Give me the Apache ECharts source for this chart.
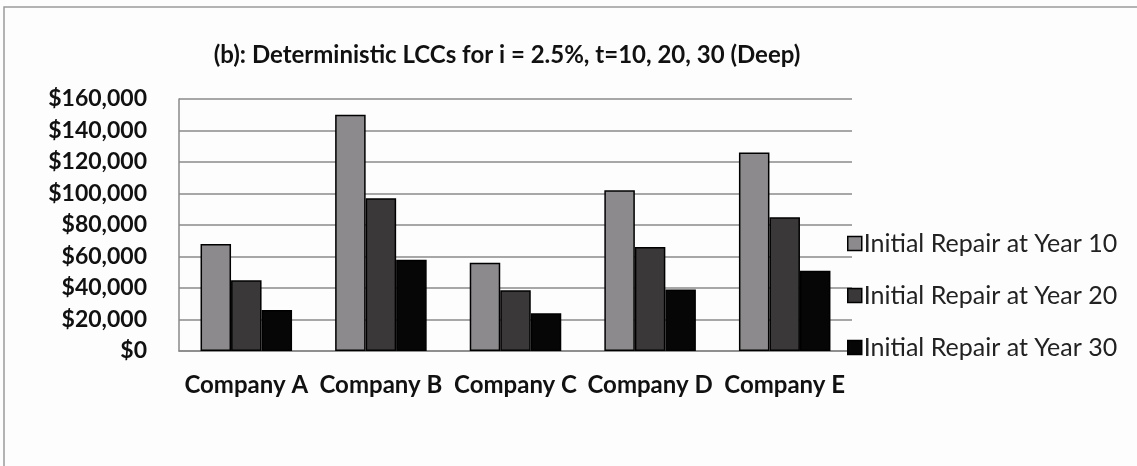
<!DOCTYPE html>
<html>
<head>
<meta charset="utf-8">
<script src="https://cdn.jsdelivr.net/npm/echarts@6/dist/echarts.min.js"></script>
<style>
html,body{margin:0;padding:0;background:#fdfdfe;}
#chart{width:1137px;height:466px;}
</style>
</head>
<body>
<div id="chart"></div>
<script>
var categories = ['Company A', 'Company B', 'Company C', 'Company D', 'Company E'];
var seriesNames = ['Initial Repair at Year 10', 'Initial Repair at Year 20', 'Initial Repair at Year 30'];
var year10 = [68000, 150000, 56000, 102000, 126000];
var year20 = [45000, 97000, 38500, 66000, 85000];
var year30 = [26000, 58000, 24000, 39000, 51000];
var yTicks = [0, 20000, 40000, 60000, 80000, 100000, 120000, 140000, 160000];

var colors = ['#8c8a8c', '#3b3839', '#060606'];
var font = 'Lato, "Open Sans", sans-serif';

function fmt(v) {
  return '$' + v.toString().replace(/\B(?=(\d{3})+(?!\d))/g, ',');
}

var chart = echarts.init(document.getElementById('chart'), null, {renderer: 'canvas'});
var dataSets = [year10, year20, year30];
var series = dataSets.map(function (d, i) {
  return {
    name: seriesNames[i],
    type: 'bar',
    data: d,
    barGap: '0%',
    barCategoryGap: '32%',
    itemStyle: {color: colors[i], borderColor: '#000', borderWidth: 1.5},
    emphasis: {disabled: true}
  };
});

chart.setOption({
  animation: false,
  backgroundColor: '#fdfdfe',
  textStyle: {fontFamily: font},
  graphic: [{
    type: 'rect',
    shape: {x: 4, y: 7, width: 1200, height: 600},
    style: {fill: 'none', stroke: '#9a9a9a', lineWidth: 1.5},
    silent: true
  }],
  title: {
    text: '(b): Deterministic LCCs for i = 2.5%, t=10, 20, 30 (Deep)',
    left: 502,
    textAlign: 'center',
    top: 36,
    textStyle: {fontFamily: font, fontSize: 24, fontWeight: 'bold', color: '#111', lineHeight: 28}
  },
  legend: {
    orient: 'vertical',
    left: 842,
    top: 226,
    itemWidth: 14,
    itemHeight: 14,
    itemGap: 27,
    icon: 'rect',
    data: seriesNames,
    itemStyle: {borderColor: '#000', borderWidth: 1.5},
    textStyle: {fontFamily: font, fontSize: 25, color: '#222', lineHeight: 25, padding: [0, 0, 0, -3]}
  },
  grid: {left: 179, right: 285, top: 99, bottom: 115, containLabel: false},
  xAxis: {
    type: 'category',
    data: categories,
    axisLine: {lineStyle: {color: '#888', width: 1.5}},
    axisTick: {show: false},
    axisLabel: {fontFamily: font, fontSize: 24, fontWeight: 'bold', color: '#111', margin: 22, interval: 0}
  },
  yAxis: {
    type: 'value',
    min: yTicks[0],
    max: yTicks[yTicks.length - 1],
    interval: yTicks[1] - yTicks[0],
    axisLine: {show: true, lineStyle: {color: '#888', width: 1.5}},
    axisTick: {show: false},
    splitLine: {lineStyle: {color: '#8a8a8a', width: 1.5}},
    axisLabel: {fontFamily: font, fontSize: 23, fontWeight: 'bold', color: '#111', margin: 32, formatter: fmt}
  },
  series: series
});
</script>
</body>
</html>
